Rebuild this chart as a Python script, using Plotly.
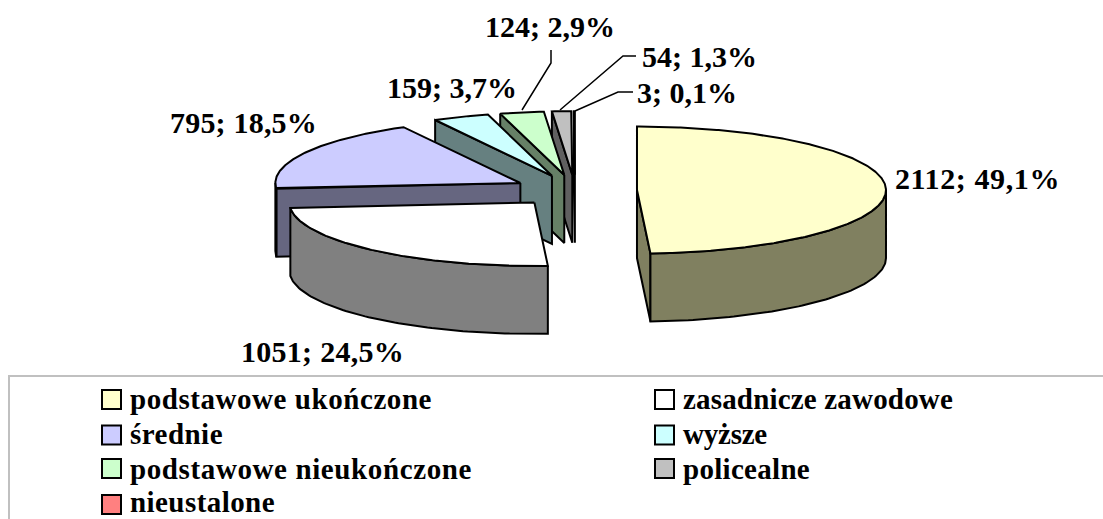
import json
import numpy as np
import plotly.graph_objects as go

categories = ["podstawowe ukończone", "zasadnicze zawodowe", "średnie", "wyższe",
              "podstawowe nieukończone", "policealne", "nieustalone"]
values = [2112, 1051, 795, 159, 124, 54, 3]
percent_labels = ["49,1%", "24,5%", "18,5%", "3,7%", "2,9%", "1,3%", "0,1%"]
top_colors = ["#FFFFCC", "#FFFFFF", "#CCCCFF", "#CCFFFF", "#CCFFCC", "#C0C0C0", "#FF8080"]
wall_colors = ["#808060", "#808080", "#666680", "#668080", "#668066", "#606060", "#804040"]

W, H = 1103, 519
CX, CY, RX_R, RX_L, RY, DEPTH, EXPLODE = 575, 190.5, 249, 245, 63.5, 68, 62
LW = 2
FONT = "Liberation Serif"

def pt(ax, ay, deg):
    t = np.radians(deg)
    s = np.sin(t)
    return ax + np.where(s > 0, RX_R, RX_L) * s, ay - RY * np.cos(t)

fig = go.Figure()

def poly(xs, ys, color):
    fig.add_trace(go.Scatter(x=list(xs), y=list(ys), mode="lines", fill="toself", fillcolor=color,
                             line=dict(color="black", width=LW), hoverinfo="skip", showlegend=False))

total = sum(values)
edges = np.concatenate([[0], np.cumsum(values)]) / total * 360
for i in range(len(values) - 1, -1, -1):
    a0, a1 = edges[i], edges[i + 1]
    mid = (a0 + a1) / 2
    t = np.radians(mid)
    ax = CX + EXPLODE * np.sin(t)
    ay = CY - EXPLODE * (RY / RX_R) * np.cos(t)
    # radial walls facing the viewer
    for a, vis in ((a0, np.sin(np.radians(a0)) < 0), (a1, np.sin(np.radians(a1)) > 0)):
        if vis:
            ex, ey = pt(ax, ay, a)
            ex, ey = float(ex), float(ey)
            poly([ax, ex, ex, ax, ax], [ay, ey, ey + DEPTH, ay + DEPTH, ay], wall_colors[i])
    # outer wall
    lo, hi = max(a0, 90), min(a1, 270)
    if hi > lo:
        th = np.linspace(lo, hi, 80)
        px, py = pt(ax, ay, th)
        poly(np.r_[px, px[::-1], px[0]], np.r_[py, py[::-1] + DEPTH, py[0]], wall_colors[i])
    # top face
    th = np.linspace(a0, a1, max(3, int(a1 - a0) * 2))
    px, py = pt(ax, ay, th)
    poly(np.r_[ax, px, ax], np.r_[ay, py, ay], top_colors[i])

# data labels: left edge, vertical centre and drawn width in page pixels
label_pos = [(895, 178, 165), (241, 351, 163), (170, 122, 147), (387, 87, 130), (485, 26.5, 130), (642, 56, 115), (637, 92, 100)]
annotations = []
text_widths = {}
PAD = 2
for v, p, (lx, ly, lw) in zip(values, percent_labels, label_pos):
    s = f"{v}; {p}"
    text_widths[s] = lw
    annotations.append(dict(x=lx - PAD, y=ly, xref="x", yref="y", text=f"<b>{s}</b>", showarrow=False,
                            xanchor="left", yanchor="middle", align="left",
                            font=dict(family=FONT, size=30, color="black")))

# leader lines
leaders = [([522, 551, 551], [110, 63, 50]), ([560, 623, 636], [110, 56, 56]), ([575, 618, 633], [111, 92, 92])]
for lx, ly in leaders:
    fig.add_trace(go.Scatter(x=lx, y=ly, mode="lines", line=dict(color="black", width=1.5),
                             hoverinfo="skip", showlegend=False))

# legend frame
fig.add_trace(go.Scatter(x=[9, 9, 1103], y=[519, 376, 376], mode="lines",
                         line=dict(color="#C0C0C0", width=2), hoverinfo="skip", showlegend=False))

# legend entries, two columns
swatch_x = [111.5, 664.5]
text_x = [130, 683]
row_y = [399.5, 435, 468.5, 504.5]
row_text_y = [398.5, 434, 468.5, 502]
legend_widths = [302, 270, 93, 84, 342, 127, 145]
for i, c in enumerate(categories):
    col = i % 2
    y = row_y[i // 2]
    text_widths[c] = legend_widths[i]
    fig.add_trace(go.Scatter(x=[swatch_x[col]], y=[y], mode="markers", hoverinfo="skip", showlegend=False,
                             marker=dict(symbol="square", size=19, color=top_colors[i],
                                         line=dict(color="black", width=2))))
    annotations.append(dict(x=text_x[col] - PAD, y=row_text_y[i // 2], xref="x", yref="y", text=f"<b>{c}</b>",
                            showarrow=False, xanchor="left", yanchor="middle", align="left",
                            font=dict(family=FONT, size=29, color="black")))

fig.update_layout(width=W, height=H, margin=dict(l=0, r=0, t=0, b=0),
                  paper_bgcolor="white", plot_bgcolor="white", annotations=annotations,
                  showlegend=False,
                  xaxis=dict(range=[0, W], visible=False, fixedrange=True),
                  yaxis=dict(range=[H, 0], visible=False, fixedrange=True))
post = """
document.body.style.margin='0';document.body.style.overflow='hidden';
var target = %s;
document.querySelectorAll('.annotation-text').forEach(function(t){
  var w = target[t.textContent];
  if (w) {
    var n = t.textContent.length;
    t.style.letterSpacing = ((w - t.getComputedTextLength()) / n) + 'px';
  }
});
""" % json.dumps(text_widths, ensure_ascii=False)
fig.write_html("out.html", config={"displayModeBar": False}, post_script=post)
